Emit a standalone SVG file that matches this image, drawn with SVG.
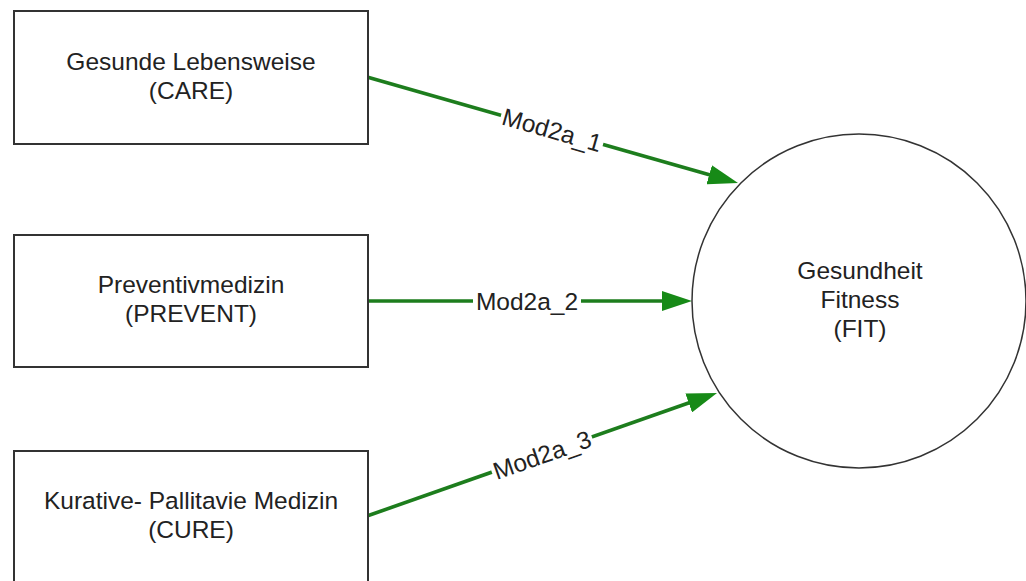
<svg xmlns="http://www.w3.org/2000/svg" width="1026" height="581" viewBox="0 0 1026 581">
  <style>
    .box { fill: #ffffff; stroke: #333333; stroke-width: 2; }
    .ell { fill: #ffffff; stroke: #333333; stroke-width: 1.5; }
    .lbl { font-family: "Liberation Sans", Arial, sans-serif; font-size: 24.5px; fill: #222222; text-anchor: middle; }
    .edge { stroke: #1d7d1d; stroke-width: 3.6; fill: none; marker-end: url(#head); }
    .tag { fill: #ffffff; }
  </style>
  <defs>
    <marker id="head" viewBox="0 0 30 20" markerWidth="30" markerHeight="20" refX="2" refY="10" orient="auto" markerUnits="userSpaceOnUse">
      <path d="M0,0 L30,10 L0,20 Z" fill="#178a17"/>
    </marker>
  </defs>
  <rect width="1026" height="581" fill="#ffffff"/>

  <!-- connectors -->
  <g id="connectors">
    <line class="edge" x1="367" y1="77" x2="711.1" y2="175.3"/>
    <line class="edge" x1="367" y1="301" x2="664" y2="301"/>
    <line class="edge" x1="367" y1="516" x2="690.6" y2="402.3"/>
    <g transform="translate(552,130) rotate(15.95)">
      <rect class="tag" x="-53" y="-10" width="106" height="20"/>
      <text class="lbl" y="8.5">Mod2a_1</text>
    </g>
    <g transform="translate(527,301)">
      <rect class="tag" x="-54" y="-10" width="108" height="20"/>
      <text class="lbl" y="8.5">Mod2a_2</text>
    </g>
    <g transform="translate(542,455) rotate(-19.36)">
      <rect class="tag" x="-53" y="-10" width="106" height="20"/>
      <text class="lbl" y="8.5">Mod2a_3</text>
    </g>
  </g>

  <!-- source nodes -->
  <g id="care">
    <rect class="box" x="14" y="11" width="354" height="133"/>
    <text class="lbl" x="191" y="70">Gesunde Lebensweise</text>
    <text class="lbl" x="191" y="99">(CARE)</text>
  </g>
  <g id="prevent">
    <rect class="box" x="14" y="235" width="354" height="132"/>
    <text class="lbl" x="191" y="293">Preventivmedizin</text>
    <text class="lbl" x="191" y="322">(PREVENT)</text>
  </g>
  <g id="cure">
    <rect class="box" x="14" y="451" width="354" height="134"/>
    <text class="lbl" x="191" y="509">Kurative- Pallitavie Medizin</text>
    <text class="lbl" x="191" y="538">(CURE)</text>
  </g>

  <!-- target node -->
  <g id="fit">
    <circle class="ell" cx="859" cy="301" r="167"/>
    <text class="lbl" x="860" y="279">Gesundheit</text>
    <text class="lbl" x="860" y="308">Fitness</text>
    <text class="lbl" x="860" y="337">(FIT)</text>
  </g>
</svg>
